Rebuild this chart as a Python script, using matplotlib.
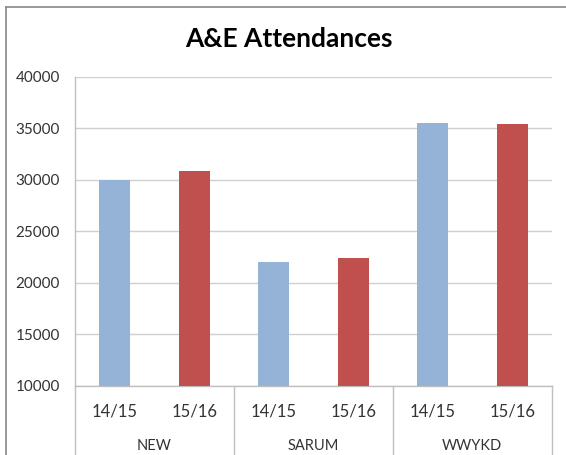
import matplotlib.pyplot as plt
from matplotlib.lines import Line2D
import matplotlib.transforms as mtransforms

# data
groups = ["NEW", "SARUM", "WWYKD"]
years = ["14/15", "15/16"]
vals_1415 = [30000, 22050, 35550]
vals_1516 = [30870, 22430, 35430]
colors = ["#95B3D7", "#C0504D"]

plt.rcParams['font.family'] = ['Lato', 'DejaVu Sans']

fig = plt.figure(figsize=(5.66, 4.55), dpi=100)
ax = fig.add_axes([0.1325, 0.1527, 0.8425, 0.6781])

x1 = [2 * i for i in range(len(groups))]
x2 = [2 * i + 1 for i in range(len(groups))]
ax.bar(x1, vals_1415, width=0.39, color=colors[0], zorder=3)
ax.bar(x2, vals_1516, width=0.39, color=colors[1], zorder=3)

ax.set_xlim(-0.5, 2 * len(groups) - 0.5)
ax.set_ylim(10000, 40000)
ax.set_yticks(range(10000, 40001, 5000))
ax.tick_params(axis='y', length=0, pad=11, labelsize=11, labelcolor='#333333')
ax.set_xticks([])
ax.grid(axis='y', color='#D0D0D0', linewidth=1, zorder=0)
for s in ['top', 'right']:
    ax.spines[s].set_visible(False)
for s in ['left', 'bottom']:
    ax.spines[s].set_color('#BFBFBF')
    ax.spines[s].set_linewidth(1)

# multi-level category axis
trans = mtransforms.blended_transform_factory(ax.transData, ax.transAxes)
for i, g in enumerate(groups):
    for j, yr in enumerate(years):
        ax.text(2 * i + j, -0.083, yr, transform=trans, ha='center', va='center',
                fontsize=12, color='#333333')
    ax.text(2 * i + 0.5, -0.195, g, transform=trans, ha='center', va='center',
            fontsize=10.5, color='#333333')
for k in range(len(groups) + 1):
    ax.plot([2 * k - 0.5, 2 * k - 0.5], [0, -0.23], transform=trans,
            color='#BFBFBF', linewidth=1, clip_on=False)

fig.text(0.511, 0.897, "A&E Attendances", ha='center', va='baseline',
         fontsize=19, fontweight='bold', color='black')

# outer chart border
fig.add_artist(Line2D([0.0106, 0.0106], [0, 0.9846], color='#888888', linewidth=1.2))
fig.add_artist(Line2D([0.0106, 1], [0.9846, 0.9846], color='#888888', linewidth=1.2))

fig.savefig("out.png", dpi=100)
